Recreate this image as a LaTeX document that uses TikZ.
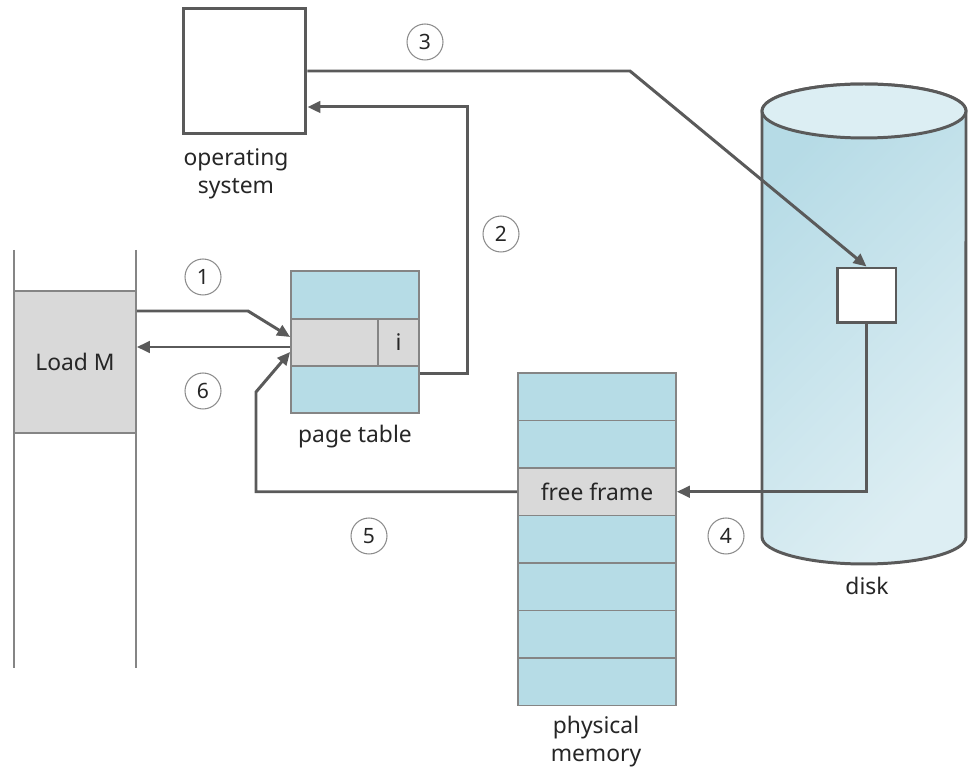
\documentclass[tikz,border=0pt]{standalone}
\usepackage{fontspec}
\setmainfont{Noto Sans}
\usepackage{tikz}
\usetikzlibrary{arrows.meta}
\definecolor{cellblue}{HTML}{B6DCE6}
\definecolor{cellgray}{HTML}{D9D9D9}
\definecolor{linegray}{HTML}{5A5A5A}
\definecolor{edgegray}{HTML}{858585}
\definecolor{diskdark}{HTML}{B6DBE6}
\definecolor{disklight}{HTML}{DDEEF3}
\definecolor{disktop}{HTML}{DCEEF3}

\begin{document}
\begin{tikzpicture}[x=0.02cm, y=-0.02cm,
  cell/.style={rectangle, draw=edgegray, line width=1pt, fill=cellblue, inner sep=0pt,
    font=\fontsize{13}{15}\selectfont, text=black!85},
  gcell/.style={cell, fill=cellgray},
  frame/.style={cell, minimum width=3.16cm, minimum height=0.95cm},
  osbox/.style={rectangle, draw=linegray, line width=1.7pt, fill=white, inner sep=0pt},
  num/.style={circle, draw=gray!90, line width=0.6pt, minimum size=0.72cm, inner sep=0pt,
    font=\fontsize{12}{14}\selectfont, text=black!85},
  lbl/.style={align=center, font=\fontsize{13}{16}\selectfont, text=black!85},
  arr/.style={-{Triangle[length=2.6mm,width=2.3mm]}, line width=1.7pt, draw=linegray},
  link/.style={line width=1.7pt, draw=linegray}
]
\useasboundingbox (0,0) rectangle (968,773);

% process address space
\draw[edgegray, line width=1pt] (14,250) -- (14,668) (136,250) -- (136,668);
\node[gcell, minimum width=2.44cm, minimum height=2.84cm] (ld) at (75,362) {Load M};

% operating system
\node[osbox, minimum width=2.46cm, minimum height=2.52cm] (os) at (244.5,71) {};
\node[lbl] (oslbl) at (236,174) {operating\\system};

% page table
\node[cell, minimum width=2.56cm, minimum height=0.96cm] (pt1) at (355,295) {};
\node[gcell, minimum width=1.74cm, minimum height=0.94cm] (pte) at (334.5,342.5) {};
\node[gcell, minimum width=0.82cm, minimum height=0.94cm] (ptbit) at (398.5,342.5) {i};
\node[cell, minimum width=2.56cm, minimum height=0.94cm] (pt3) at (355,389.5) {};
\node[lbl] (ptlbl) at (355,437) {page table};

% physical memory
\foreach \r in {0,1,3,4,5,6}
  \node[frame] (mem\r) at (597,396.75+47.5*\r) {};
\node[frame, fill=cellgray] (mem2) at (597,491.75) {free frame};
\node[lbl] (memlbl) at (596,742) {physical\\memory};

% disk
\path[draw=linegray, line width=1.7pt, left color=diskdark, right color=disklight, shading angle=45]
  (762,111) -- (762,537) arc[start angle=180, end angle=360, x radius=2.04cm, y radius=0.54cm]
  -- (966,111) arc[start angle=0, end angle=180, x radius=2.04cm, y radius=0.54cm] -- cycle;
\draw[linegray, line width=1.7pt, fill=disktop] (864,111) ellipse[x radius=2.04cm, y radius=0.54cm];
\node[osbox, minimum width=1.18cm, minimum height=1.1cm] (blk) at (866.5,295.5) {};
\node[lbl] (disklbl) at (867,586) {disk};

% steps
\node[num] (n1) at (203,277) {1};
\node[num] (n2) at (501,234) {2};
\node[num] (n3) at (425,42) {3};
\node[num] (n4) at (726,536) {4};
\node[num] (n5) at (369,536) {5};
\node[num] (n6) at (203,391) {6};

\draw[arr] ([yshift=1.02cm]ld.east) -- (248,311) -- ([yshift=0.11cm]pte.west);
\draw[arr] ([yshift=-0.16cm]pt3.north east) -- ++(48,0) |- ([yshift=-0.72cm]os.east);
\draw[arr] (os.east) -- (630,71) -- (blk.north);
\draw[arr] (blk.south) |- (mem2.east);
\draw[arr] (mem2.west) -| (256,392) -- ([yshift=-0.19cm]pte.west);
\draw[arr] ([yshift=-0.09cm]pte.west) coordinate (a6) -- (a6 -| ld.east);

\end{tikzpicture}
\end{document}
